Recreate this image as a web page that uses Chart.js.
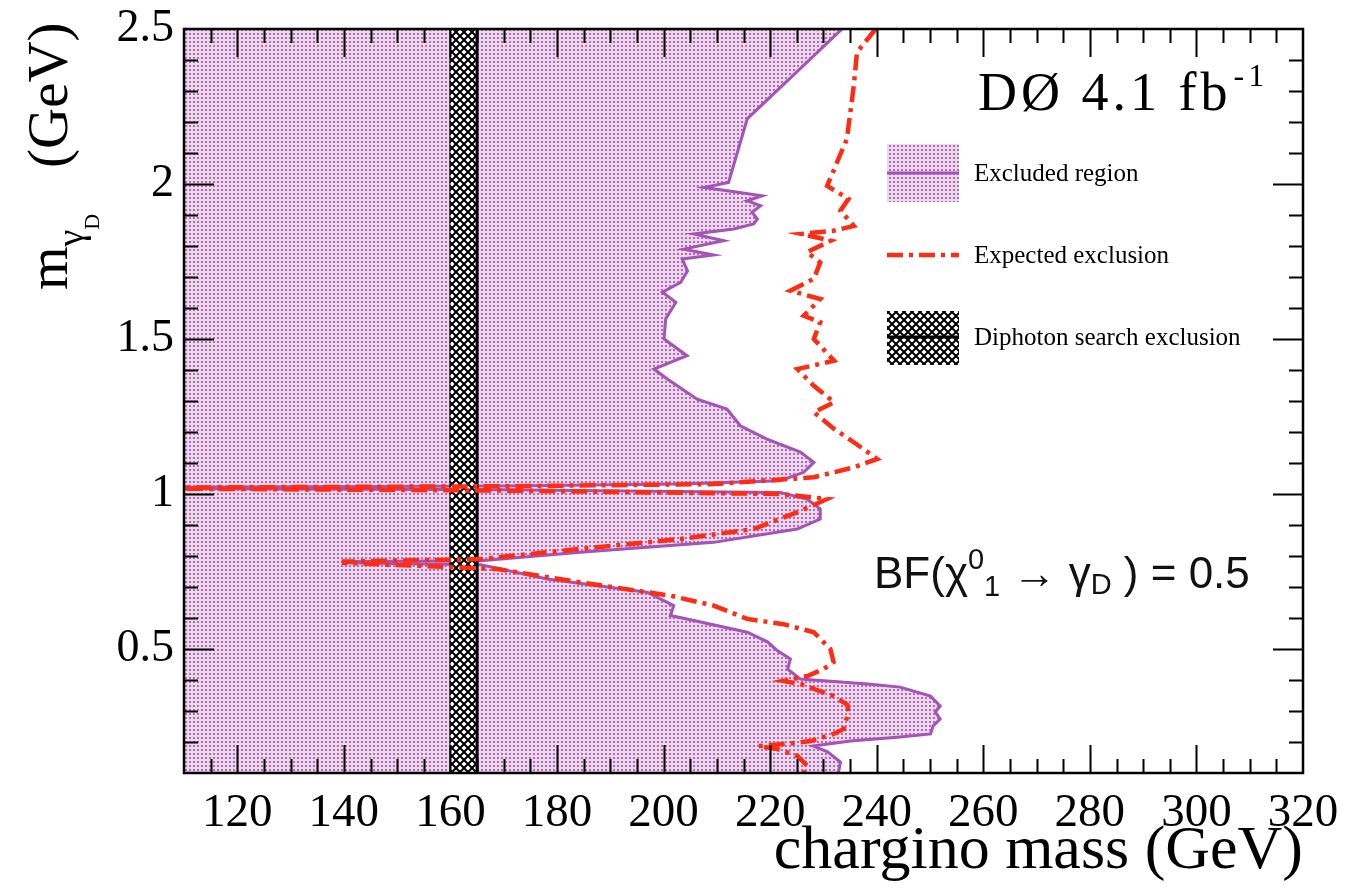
<!DOCTYPE html>
<html>
<head>
<meta charset="utf-8">
<style>
  html, body { margin: 0; padding: 0; background: #fff; }
</style>
</head>
<body>
<canvas id="limitChart" width="1358" height="895"></canvas>
<script src="https://cdn.jsdelivr.net/npm/chart.js"></script>
<script>
// observed exclusion boundary (chargino mass vs dark photon mass)
const excludedMyd = [2.5, 2.21, 2.005, 1.989, 1.978, 1.962, 1.946, 1.93, 1.909, 1.887, 1.871, 1.855, 1.839, 1.817, 1.79, 1.771, 1.758, 1.72, 1.683, 1.651, 1.618, 1.565, 1.5, 1.446, 1.403, 1.371, 1.306, 1.274, 1.22, 1.177, 1.135, 1.102, 1.07, 1.043, 1.032, 1.026, 1.022, 1.018, 1.014, 1.008, 1.005, 0.984, 0.952, 0.919, 0.887, 0.844, 0.812, 0.785, 0.782, 0.778, 0.772, 0.726, 0.683, 0.64, 0.608, 0.597, 0.554, 0.523, 0.494, 0.468, 0.435, 0.403, 0.387, 0.377, 0.348, 0.316, 0.297, 0.274, 0.252, 0.226, 0.216, 0.203, 0.187, 0.168, 0.135, 0.1];
const excludedMass = [233.5, 215.7, 212.2, 207.6, 212.0, 218.5, 215.7, 218.2, 216.6, 217.6, 216.9, 213.2, 205.7, 211.3, 203.8, 209.4, 203.5, 204.5, 203.2, 199.8, 202.3, 200.4, 200.1, 204.4, 198.2, 200.7, 206.3, 211.9, 214.4, 219.4, 225.7, 228.2, 226.3, 221.9, 203.2, 170, 110, 110, 170, 203, 221.9, 226.9, 229.4, 229.4, 225.1, 209.4, 184.4, 165.7, 140, 140, 165.7, 178.2, 196.9, 201.9, 201.3, 204.4, 215.7, 219.5, 221.4, 223.8, 223.3, 225.7, 238.3, 244.4, 250.1, 251.9, 251, 251.9, 250.6, 250.1, 244.4, 235.1, 228.1, 230.8, 233.2, 232.8];

// expected exclusion
const expectedMyd = [2.5, 2.425, 2.317, 2.145, 1.994, 1.952, 1.914, 1.865, 1.849, 1.839, 1.817, 1.78, 1.747, 1.694, 1.656, 1.629, 1.575, 1.554, 1.5, 1.43, 1.403, 1.349, 1.296, 1.264, 1.21, 1.167, 1.113, 1.086, 1.054, 1.032, 1.025, 1.021, 1.017, 1.011, 1.0, 0.984, 0.946, 0.887, 0.855, 0.823, 0.79, 0.782, 0.778, 0.758, 0.715, 0.672, 0.64, 0.597, 0.58, 0.554, 0.5, 0.458, 0.435, 0.413, 0.397, 0.387, 0.348, 0.32, 0.297, 0.242, 0.226, 0.203, 0.194, 0.187, 0.177, 0.155, 0.123, 0.1];
const expectedMass = [239.8, 236.3, 235.7, 234.4, 230.7, 234.7, 233.2, 235.7, 231.9, 225.8, 231.4, 226.9, 229.4, 228.2, 223.8, 229.4, 226.3, 229.4, 228.2, 232, 225.1, 228.2, 232, 228.2, 232, 235.7, 240.1, 235.7, 228.2, 209.4, 170, 110, 110, 170, 221.9, 230.7, 225.8, 216.9, 203.2, 184.4, 165.7, 140, 140, 168.8, 184.4, 201.3, 209.4, 215.7, 222.5, 228.2, 231.3, 231.9, 230, 227, 222.5, 225.7, 231.9, 234.5, 234.7, 233.8, 231.9, 227.6, 223.3, 217.8, 221.4, 225.1, 227, 226.3];

// diphoton search excluded band
const diphotonMass = [160, 165];
const mydRange = [2.5, 0.1];
const massRange = [110, 320];

const serif = '"Liberation Serif", "Times New Roman", serif';

function dotPattern() {
  const c = document.createElement('canvas');
  c.width = 4; c.height = 4;
  const g = c.getContext('2d');
  g.fillStyle = '#edd7ed';
  g.fillRect(0, 0, 4, 4);
  g.fillStyle = '#ac70b2';
  g.fillRect(1, 1, 2, 2);
  return g.createPattern(c, 'repeat');
}

function hatchPattern() {
  const c = document.createElement('canvas');
  c.width = 8; c.height = 8;
  const g = c.getContext('2d');
  g.fillStyle = '#fff';
  g.fillRect(0, 0, 8, 8);
  g.strokeStyle = '#000';
  g.lineWidth = 2;
  g.beginPath();
  g.moveTo(0, 0); g.lineTo(8, 8);
  g.moveTo(8, 0); g.lineTo(0, 8);
  g.stroke();
  return g.createPattern(c, 'repeat');
}

const dots = dotPattern();
const hatch = hatchPattern();
const purple = '#a453b6';
const red = '#ff2b12';
const redDash = [16, 6, 4, 6];

const toPts = (xs, ys) => xs.map((x, i) => ({ x: x, y: ys[i] }));

const decor = {
  id: 'decor',
  afterDatasetsDraw(chart) {
    const { ctx, chartArea: a, scales: { x, y } } = chart;
    ctx.save();
    ctx.strokeStyle = '#000';
    ctx.lineWidth = 2;
    ctx.beginPath();
    // x ticks every 5 GeV, long ones every 20
    for (let k = 23; k < 64; k++) {
      const m = k * 5;
      const px = Math.round(x.getPixelForValue(m)) + 0.5;
      const len = m % 20 === 0 ? 28 : 14;
      ctx.moveTo(px, a.bottom); ctx.lineTo(px, a.bottom - len);
      ctx.moveTo(px, a.top); ctx.lineTo(px, a.top + len);
    }
    // y ticks every 0.1, long every 0.5
    for (let k = 2; k < 25; k++) {
      const py = Math.round(y.getPixelForValue(k / 10)) + 0.5;
      const len = k % 5 === 0 ? 30 : 14;
      ctx.moveTo(a.left, py); ctx.lineTo(a.left + len, py);
      ctx.moveTo(a.right, py); ctx.lineTo(a.right - len, py);
    }
    ctx.stroke();
    ctx.lineWidth = 2.5;
    ctx.strokeRect(a.left, a.top, a.right - a.left, a.bottom - a.top);

    // legend
    ctx.fillStyle = dots;
    ctx.fillRect(887, 144, 72, 58);
    ctx.strokeStyle = purple; ctx.lineWidth = 3;
    ctx.beginPath(); ctx.moveTo(887, 173); ctx.lineTo(959, 173); ctx.stroke();
    ctx.strokeStyle = red; ctx.lineWidth = 4.5; ctx.setLineDash(redDash);
    ctx.beginPath(); ctx.moveTo(887, 255); ctx.lineTo(959, 255); ctx.stroke();
    ctx.setLineDash([]);
    ctx.fillStyle = hatch;
    ctx.fillRect(887, 311, 72, 54);
    ctx.strokeStyle = '#000'; ctx.lineWidth = 3;
    ctx.beginPath(); ctx.moveTo(887, 337); ctx.lineTo(959, 337); ctx.stroke();

    ctx.fillStyle = '#000';
    ctx.font = '25px ' + serif;
    ctx.textBaseline = 'middle';
    ctx.fillText('Excluded region', 974, 174);
    ctx.fillText('Expected exclusion', 974, 256);
    ctx.fillText('Diphoton search exclusion', 974, 338);

    // experiment label
    ctx.textBaseline = 'alphabetic';
    ctx.letterSpacing = '4px';
    ctx.font = '54px ' + serif;
    ctx.fillText('DØ 4.1 fb', 978, 110);
    let w = ctx.measureText('DØ 4.1 fb').width;
    ctx.font = '32px ' + serif;
    ctx.fillText('-1', 978 + w + 2, 86);
    ctx.letterSpacing = '0px';

    // branching fraction
    const sans = '"Liberation Sans", Arial, sans-serif';
    let cx = 874;
    const bx = 588;
    const part = (txt, size, dy) => {
      ctx.font = size + 'px ' + sans;
      ctx.fillText(txt, cx, bx + dy);
      cx += ctx.measureText(txt).width;
    };
    ctx.fillStyle = '#111';
    part('BF(χ', 44, 0);
    part('0', 29, -19);
    part('1', 29, 8);
    part(' → γ', 44, 0);
    part('D', 29, 6);
    part(' ) = 0.5', 44, 0);

    // y axis title
    ctx.fillStyle = '#000';
    ctx.translate(67, 290);
    ctx.rotate(-Math.PI / 2);
    ctx.font = '56px ' + serif;
    ctx.fillText('m', 0, 0);
    let tw = ctx.measureText('m').width;
    ctx.font = '38px ' + serif;
    ctx.fillText('γ', tw, 16);
    tw += ctx.measureText('γ').width;
    ctx.font = '22px ' + serif;
    ctx.fillText('D', tw, 32);
    ctx.font = '57px ' + serif;
    ctx.fillText('(GeV)', 122, 0);
    ctx.restore();
  }
};

const chart = new Chart(document.getElementById('limitChart'), {
  type: 'line',
  data: {
    datasets: [
      {
        label: 'Expected exclusion',
        data: toPts(expectedMass, expectedMyd),
        borderColor: red,
        borderWidth: 4.5,
        borderDash: redDash,
        fill: false,
        pointRadius: 0,
        order: 0
      },
      {
        label: 'Diphoton search exclusion',
        data: toPts([diphotonMass[1], diphotonMass[1]], mydRange),
        borderColor: '#000',
        borderWidth: 3,
        backgroundColor: hatch,
        fill: { value: diphotonMass[0] },
        pointRadius: 0,
        order: 1
      },
      {
        label: 'band edge',
        data: toPts([diphotonMass[0], diphotonMass[0]], mydRange),
        borderColor: '#000',
        borderWidth: 2,
        fill: false,
        pointRadius: 0,
        order: 1
      },
      {
        label: 'Excluded region',
        data: toPts(excludedMass, excludedMyd),
        borderColor: purple,
        borderWidth: 3,
        backgroundColor: dots,
        fill: { value: massRange[0] },
        pointRadius: 0,
        order: 2
      }
    ]
  },
  options: {
    responsive: false,
    animation: false,
    indexAxis: 'y',
    layout: { padding: { top: 29, right: 55, left: 0, bottom: 0 } },
    plugins: {
      legend: { display: false },
      tooltip: { enabled: false }
    },
    scales: {
      x: {
        type: 'linear',
        position: 'bottom',
        min: massRange[0],
        max: massRange[1],
        grid: { display: false, drawTicks: false },
        border: { display: false },
        ticks: {
          stepSize: 20,
          includeBounds: false,
          maxRotation: 0,
          padding: 12,
          color: '#000',
          font: { family: serif, size: 47 }
        },
        title: {
          display: true,
          text: 'chargino mass (GeV)',
          align: 'end',
          color: '#000',
          font: { family: serif, size: 62 },
          padding: { top: 0, bottom: 6 }
        },
        afterFit(scale) { scale.height = 122; }
      },
      y: {
        type: 'linear',
        min: mydRange[1],
        max: mydRange[0],
        grid: { display: false, drawTicks: false },
        border: { display: false },
        ticks: {
          stepSize: 0.5,
          includeBounds: false,
          padding: 10,
          color: '#000',
          font: { family: serif, size: 46 },
          callback: (v) => String(+v.toFixed(2))
        },
        afterFit(scale) {
          scale.width = 184;
          scale.paddingTop = 0;
          scale.paddingBottom = 0;
        }
      }
    }
  },
  plugins: [decor]
});
</script>
</body>
</html>
